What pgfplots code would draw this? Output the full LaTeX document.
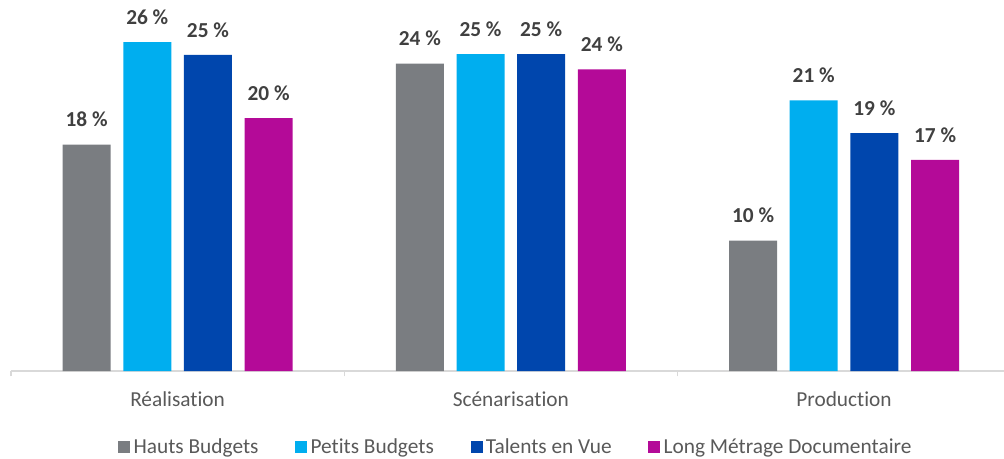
\documentclass[border=0pt]{standalone}
\usepackage{pgfplots}
\pgfplotsset{compat=1.18}
\usepackage{fontspec}
\setmainfont{Carlito}[Ligatures=NoCommon]
\definecolor{cGray}{RGB}{122,125,129}
\definecolor{cLight}{RGB}{0,174,239}
\definecolor{cDark}{RGB}{0,70,173}
\definecolor{cMag}{RGB}{180,10,152}
\definecolor{axisgray}{RGB}{217,217,217}
\definecolor{txtgray}{RGB}{89,89,89}
\definecolor{lblgray}{RGB}{64,64,64}
\begin{document}
\begin{tikzpicture}
\useasboundingbox (-8.25pt,-65.25pt) rectangle (744.75pt,278.25pt);
\clip (-8.25pt,-65.25pt) rectangle (744.75pt,278.25pt);
\begin{axis}[
  at={(0pt,0pt)}, anchor=south west,
  scale only axis,
  width=744.75pt, height=278.25pt,
  xmin=-0.5, xmax=2.48,
  ymin=0, ymax=29.33,
  enlargelimits=false,
  axis x line*=bottom,
  axis y line=none,
  x axis line style={draw=axisgray, line width=1pt, -},
  ybar=9.5pt, bar width=36pt,
  xtick={0,1,2},
  xticklabels={Réalisation, Scénarisation, Production},
  xtick style={draw=none},
  major tick length=0pt,
  xticklabel style={font=\fontsize{16}{19}\selectfont, text=txtgray, anchor=base, inner sep=0pt, yshift=-26.25pt},
  extra x ticks={-0.5,0.5,1.5},
  extra x tick labels={},
  extra x tick style={major tick length=4pt, tick align=outside, xtick style={draw=axisgray, line width=1pt}},
  point meta=explicit symbolic,
  nodes near coords={\pgfplotspointmeta~\%},
  every node near coord/.append style={font=\fontsize{16}{19}\selectfont\bfseries, text=lblgray, anchor=base, inner sep=0pt, yshift=13.3pt},
  legend columns=-1,
  legend style={draw=none, fill=none, at={(0.5084,-0.205)}, anchor=center,
    font=\fontsize{16}{19}\selectfont, text=txtgray,
    nodes={inner sep=1.5pt},
    /tikz/every odd column/.append style={column sep=1pt},
    /tikz/every even column/.append style={column sep=26pt}},
  legend image code/.code={\fill[#1] (0pt,-4.5pt) rectangle (9pt,4.5pt);},
]
\addplot[fill=cGray, draw=none] coordinates {(0,17.9) [18] (1,24.3) [24] (2,10.3) [10]};
\addplot[fill=cLight, draw=none] coordinates {(0,26.0) [26] (1,25.06) [25] (2,21.4) [21]};
\addplot[fill=cDark, draw=none] coordinates {(0,25.0) [25] (1,25.06) [25] (2,18.8) [19]};
\addplot[fill=cMag, draw=none] coordinates {(0,20.0) [20] (1,23.85) [24] (2,16.7) [17]};
\legend{Hauts Budgets, Petits Budgets, Talents en Vue, Long Métrage Documentaire}
\end{axis}
\end{tikzpicture}
\end{document}
